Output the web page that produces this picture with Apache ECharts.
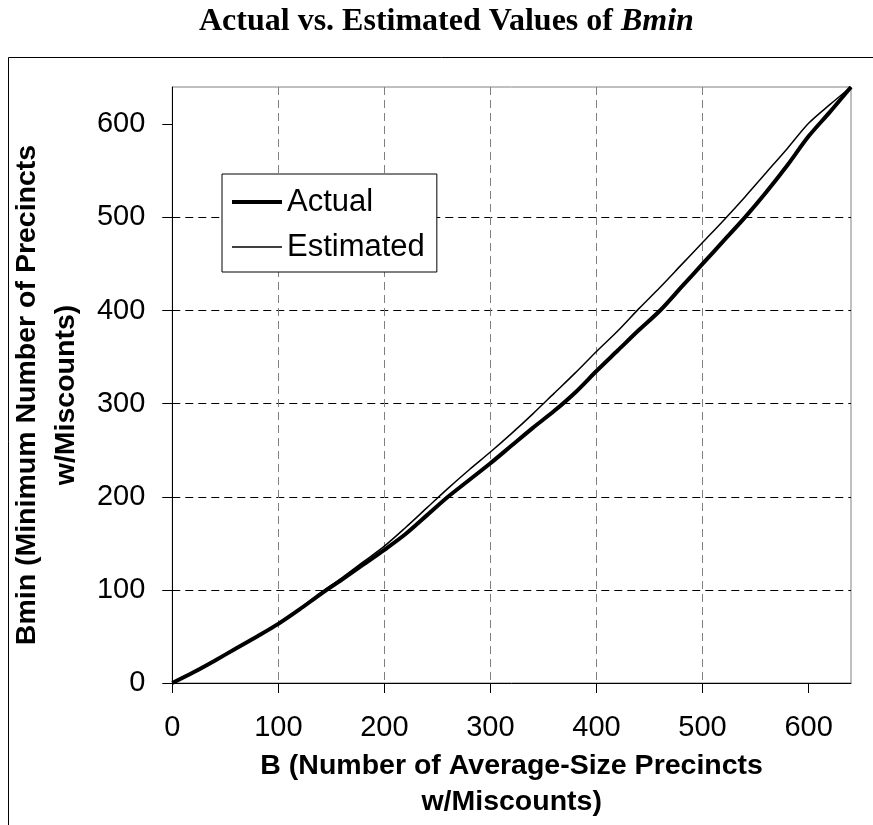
<!DOCTYPE html>
<html>
<head>
<meta charset="utf-8">
<script src="https://cdn.jsdelivr.net/npm/echarts@6/dist/echarts.min.js"></script>
<style>
html,body{margin:0;padding:0;background:#fff;}
#chart{width:873px;height:825px;}
</style>
</head>
<body>
<div id="chart"></div>
<script>
// ---- data ----
var bValues = [0,20,40,60,80,100,120,140,160,180,200,220,240,260,280,300,320,340,360,380,400,420,440,460,480,500,520,540,560,580,600,620,640];
var actualValues = [0,11.5,24,37,50,63.5,79,95.5,111,127,143,160,180,200,218,236,255,274,292,312,335,357,379,400,425,450,475,500,527,556,587,613,640];
var estimatedValues = [0,11.5,24,37.5,50.5,64,80,97,113,130,147,167,188,209,229,248,268,289,311,333,356,378,402,425,449,473,497,522,548,574,601,621,640];
var xTicks = [0,100,200,300,400,500,600];
var yTicks = [0,100,200,300,400,500,600];
var seriesNames = ['Actual','Estimated'];

function pairs(xs, ys){ return xs.map(function(x,i){ return [x, ys[i]]; }); }

var chart = echarts.init(document.getElementById('chart'), null, {renderer:'canvas'});
var sans = 'Liberation Sans, Arial, sans-serif';
var serif = 'Liberation Serif, Times New Roman, serif';

var option = {
  backgroundColor: '#fff',
  animation: false,
  title: {
    text: '{a|Actual vs. Estimated Values of }{b|Bmin}',
    left: 199, top: 6, padding: 0,
    textStyle: {
      rich: {
        a: {fontFamily: serif, fontWeight: 'bold', fontSize: 32, color: '#000'},
        b: {fontFamily: serif, fontWeight: 'bold', fontStyle: 'italic', fontSize: 32, color: '#000'}
      }
    }
  },
  graphic: [{
    type: 'rect', silent: true, z: -1,
    shape: {x: 8.5, y: 57.5, width: 900, height: 850},
    style: {fill: 'none', stroke: '#000', lineWidth: 1}
  }],
  grid: {left: 165, right: 22, top: 87, bottom: 141, show: true, borderColor: '#808080', borderWidth: 1, backgroundColor: 'transparent'},
  legend: {
    orient: 'vertical', left: 222, top: 174,
    backgroundColor: '#fff', borderColor: '#000', borderWidth: 1, borderRadius: 0,
    padding: [11, 12, 8, 10], itemGap: 11, itemWidth: 50, itemHeight: 14,
    textStyle: {fontFamily: sans, fontSize: 31, color: '#000', lineHeight: 34},
    data: [
      {name: seriesNames[0], icon: 'path://M0,0H50V4H0Z'},
      {name: seriesNames[1], icon: 'path://M0,0H50V1.5H0Z'}
    ]
  },
  xAxis: {
    type: 'value', min: 0, max: 640, interval: 100,
    name: 'B (Number of Average-Size Precincts\nw/Miscounts)',
    nameLocation: 'middle', nameGap: 101,
    nameTextStyle: {fontFamily: sans, fontWeight: 'bold', fontSize: 28.5, color: '#000', lineHeight: 36, verticalAlign: 'middle', align: 'center'},
    axisLine: {show: true, onZero: false, lineStyle: {color: '#000', width: 1}},
    axisTick: {show: true, inside: false, length: 10, customValues: xTicks, lineStyle: {color: '#000', width: 1}},
    axisLabel: {show: true, margin: 30, fontFamily: sans, fontSize: 29, color: '#000', customValues: xTicks},
    splitLine: {show: true, showMinLine: false, showMaxLine: false, lineStyle: {color: '#808080', width: 1, type: [8, 5]}}
  },
  yAxis: {
    type: 'value', min: 0, max: 640, interval: 100,
    name: 'Bmin (Minimum Number of Precincts\nw/Miscounts)',
    nameLocation: 'middle', nameGap: 109, nameRotate: 90,
    nameTextStyle: {fontFamily: sans, fontWeight: 'bold', fontSize: 28.5, color: '#000', lineHeight: 39, verticalAlign: 'middle', align: 'center', padding: [0, 20, 0, 0]},
    axisLine: {show: true, onZero: false, lineStyle: {color: '#000', width: 1}},
    axisTick: {show: true, inside: false, length: 10, customValues: yTicks, lineStyle: {color: '#000', width: 1}},
    axisLabel: {show: true, margin: 27, fontFamily: sans, fontSize: 29, color: '#000', customValues: yTicks},
    splitLine: {show: true, showMinLine: false, showMaxLine: false, lineStyle: {color: '#000', width: 1, type: [8, 5]}}
  },
  series: [
    {
      name: seriesNames[0], type: 'line', data: pairs(bValues, actualValues),
      symbol: 'none', smooth: 0.3, z: 3, color: '#000',
      lineStyle: {color: '#000', width: 4}
    },
    {
      name: seriesNames[1], type: 'line', data: pairs(bValues, estimatedValues),
      symbol: 'none', smooth: 0.3, z: 4, color: '#000',
      lineStyle: {color: '#000', width: 1.5}
    }
  ]
};
chart.setOption(option);
</script>
</body>
</html>
